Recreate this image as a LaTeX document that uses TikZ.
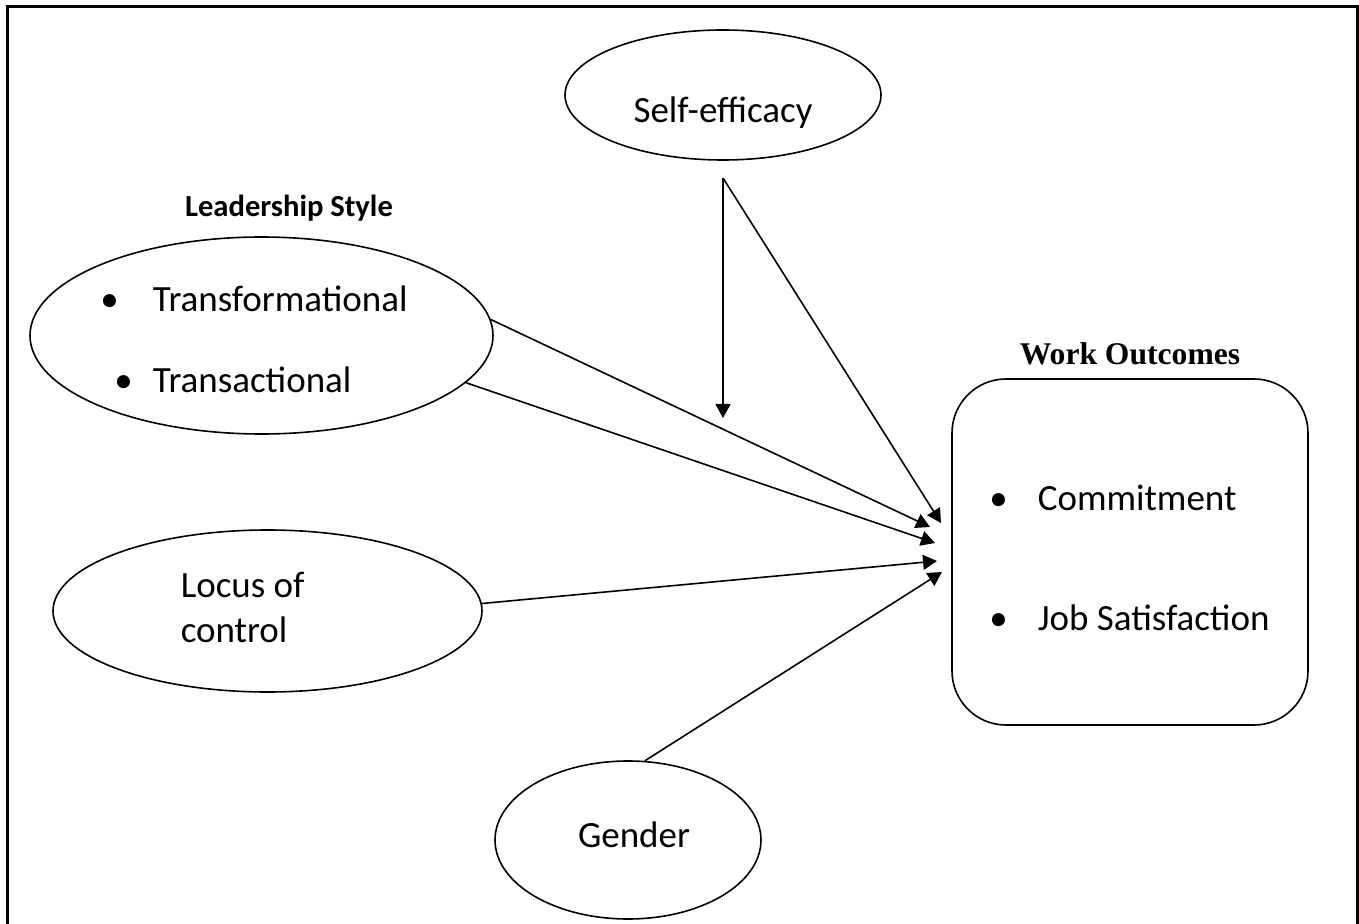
\documentclass[tikz,border=0pt]{standalone}
\usepackage{fontspec}
\setmainfont{Carlito}
\newfontfamily\timesfont{Liberation Serif}
\usetikzlibrary{arrows.meta,shapes.geometric}

\begin{document}
\begin{tikzpicture}[x=0.5pt, y=-0.5pt, thick,
    oval/.style={draw, ellipse, inner sep=0pt},
    txt/.style={inner sep=0pt, font=\fontsize{18.5}{22}\selectfont},
    head/.style={inner sep=0pt, font=\fontsize{15.3}{18}\selectfont\bfseries},
    arr/.style={-{Triangle[length=7pt,width=7.5pt]}}]
      \useasboundingbox (0,0) rectangle (1359,924);
      \draw[line width=1.5pt] (7,924) -- (7,7) -- (1357,7) -- (1357,924);
      % the ovals and the box
      \node[oval, minimum width=158pt, minimum height=65pt] (self) at (723,95) {};
      \node[oval, minimum width=231.5pt, minimum height=98.5pt] (lead) at (261.5,335.5) {};
      \node[oval, minimum width=214.5pt, minimum height=81pt] (locus) at (267.5,611) {};
      \node[oval, minimum width=133pt, minimum height=79pt] (gender) at (628,840) {};
      \node[draw, rounded corners=27pt, minimum width=178pt, minimum height=173pt, inner sep=0pt] (work) at (1130,552) {};
      % texts
      \node[txt, anchor=base] (selftxt) at (723,123) {Self-efficacy};
      \node[head, anchor=base] (leadhead) at (289,217) {Leadership Style};
      \node[txt, anchor=base west] (tfm) at (152,312) {\llap{\textbullet\hspace{17pt}}Transformational};
      \node[txt, anchor=base west] (tsc) at (152,393) {\llap{\textbullet\hspace{10pt}}Transactional};
      \node[txt, anchor=base west] (loc1) at (180,597) {Locus of};
      \node[txt, anchor=base west] (loc2) at (180,642) {control};
      \node[txt, anchor=base] (gendtxt) at (634,847) {Gender};
      \node[inner sep=0pt, font=\timesfont\fontsize{15.8}{18}\selectfont\bfseries, anchor=base] (workhead) at (1130,365) {Work Outcomes};
      \node[txt, anchor=base west] (commit) at (1037,510) {\llap{\textbullet\hspace{15pt}}Commitment};
      \node[txt, anchor=base west] (jobsat) at (1037,630) {\llap{\textbullet\hspace{15pt}}Job Satisfaction};
      % arrows
      \coordinate (fork) at (723,178);
      \coordinate (mod) at (723,418);
      \coordinate (t1) at (941,523);
      \coordinate (t2) at (930,527);
      \coordinate (t3) at (935,543);
      \coordinate (t4) at (937,561);
      \coordinate (t5) at (942,572);
      \draw[arr] (fork) -- (mod);
      \draw[arr] (fork) -- (t1);
      \draw[arr] (lead.4) -- (t2);
      \draw[arr] (lead.-13) -- (t3);
      \draw[arr] (locus.2) -- (t4);
      \draw[arr] (gender.78) -- (t5);
\end{tikzpicture}
\end{document}
